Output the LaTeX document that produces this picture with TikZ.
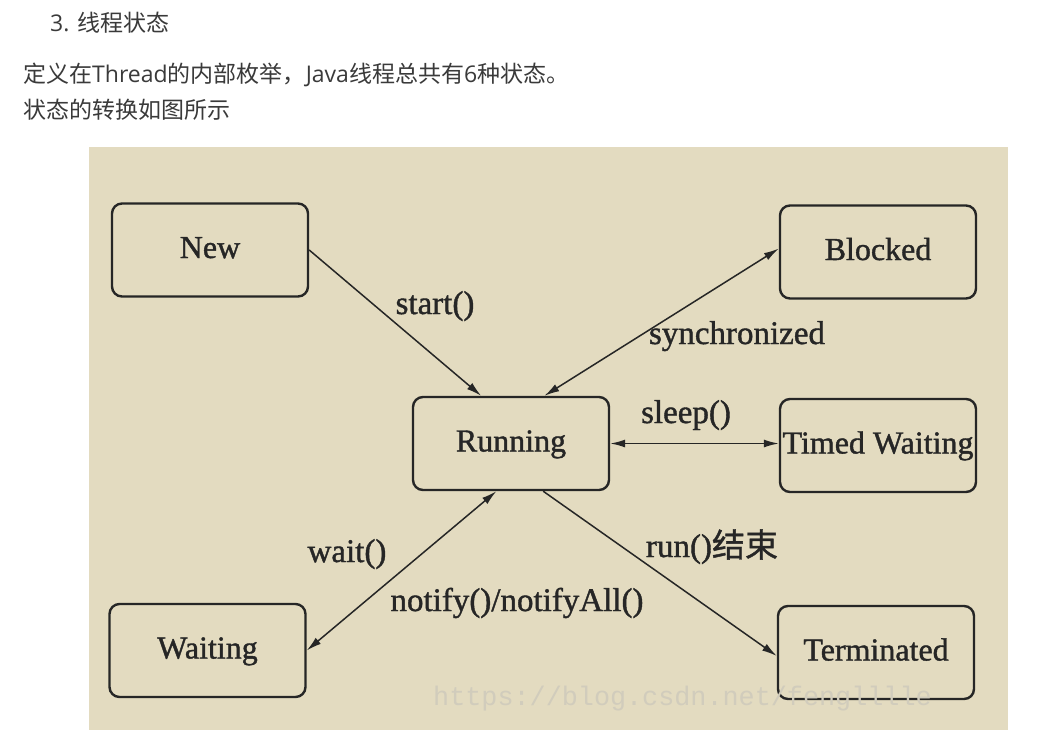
\documentclass[tikz,border=0pt]{standalone}
\usepackage{fontspec}
\setmainfont{Open Sans}
\newfontfamily\cjk{Noto Sans CJK SC}
\newfontfamily\cjkheavy[FakeBold=1.2]{Noto Sans CJK SC}
\newfontfamily\timesfont[FakeBold=1.2]{Liberation Serif}
\newfontfamily\markfont{Liberation Mono}
\usetikzlibrary{arrows.meta}

\definecolor{paper}{RGB}{227,219,192}
\definecolor{ink}{RGB}{38,38,38}
\definecolor{headink}{RGB}{58,58,58}
\definecolor{markgray}{RGB}{209,204,188}

\begin{document}
\begin{tikzpicture}[
  x=1pt,
  y=-1pt,
  state/.style={
    draw=ink,
    line width=2.4pt,
    rounded corners=10pt,
    minimum width=196pt,
    minimum height=93pt,
    inner sep=0pt,
    text=ink,
    text height=23pt,
    text depth=7pt,
    font=\timesfont\fontsize{32}{36}\selectfont
  },
  trans/.style={
    draw=ink,
    line width=1.5pt,
    -{Latex[length=15pt,width=8pt]}
  },
  both/.style={
    trans,
    {Latex[length=15pt,width=8pt]}-{Latex[length=15pt,width=8pt]}
  },
  lbl/.style={
    anchor=base,
    inner sep=0pt,
    text=ink,
    font=\timesfont\fontsize{33}{36}\selectfont
  },
  head/.style={
    anchor=base west,
    inner sep=0pt,
    text=headink,
    font=\fontsize{23}{28}\selectfont
  }
]
\useasboundingbox (0,0) rectangle (1048,742);
\fill[white] (0,0) rectangle (1048,742);

% heading text
\node[head] (h1) at (50,31) {3. {\cjk 线程状态}};
\node[head] (h2) at (23,82) {{\cjk 定义在}Thread{\cjk 的内部枚举，}Java{\cjk 线程总共有}6{\cjk 种状态。}};
\node[head] (h3) at (23,118) {\cjk 状态的转换如图所示};

% figure
\fill[paper] (89,147) rectangle (1008,730);

\node[state] (new) at (210,250) {New};
\node[state] (run) at (511,443.5) {Running};
\node[state] (blk) at (878,252) {Blocked};
\node[state] (tw) at (878,445.5) {Timed Waiting};
\node[state] (wt) at (207.5,650.5) {Waiting};
\node[state] (term) at (876,652.5) {Terminated};

\draw[trans] (new.east) -- (run.122);
\draw[both] (run.55) -- (blk.178);
\draw[both] (run.east) -- (run.east -| tw.west);
\draw[trans] (run.304) -- (term.182);
\draw[both] (wt.east) -- (run.253);

\node[lbl] (lstart) at (435,314) {start()};
\node[lbl] (lsync) at (737,344) {synchronized};
\node[lbl] (lsleep) at (686,423) {sleep()};
\node[lbl] (lrun) at (712,557) {run(){\cjkheavy 结束}};
\node[lbl] (lwait) at (347,562) {wait()};
\node[lbl] (lnotify) at (517,611) {notify()/notifyAll()};

% watermark
\node[anchor=base west, inner sep=0pt, text=markgray,
  font=\markfont\fontsize{26.8}{30}\selectfont] (wm) at (433,705)
  {https://blog.csdn.net/fenglllle};
\end{tikzpicture}
\end{document}
